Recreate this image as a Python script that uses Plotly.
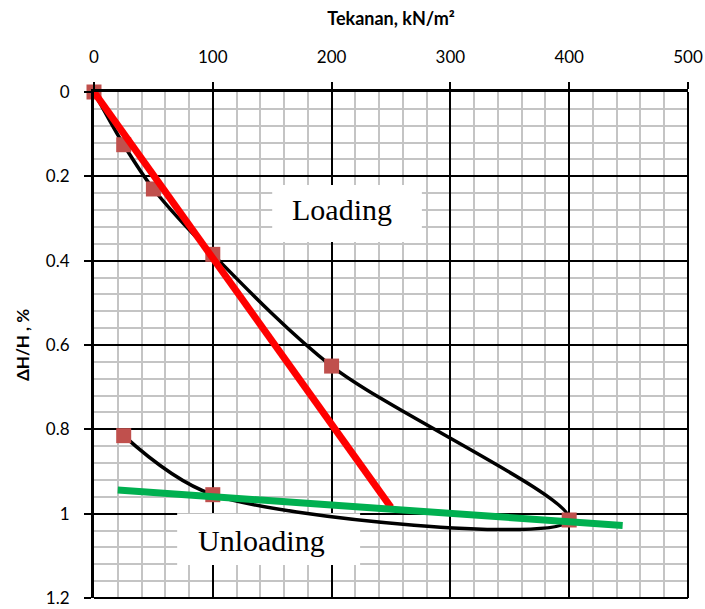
import plotly.graph_objects as go

# Oedometer test: pressure (kN/m^2) vs. relative settlement (%)
pressure = [0, 25, 50, 100, 200, 400, 100, 25]
strain = [0, 0.125, 0.23, 0.385, 0.65, 1.015, 0.955, 0.815]

# Straight-line fits for the loading and unloading branches
loading_x = [0, 250]
loading_y = [0, 0.985]
unloading_x = [20, 445]
unloading_y = [0.944, 1.028]

x_ticks = [0, 100, 200, 300, 400, 500]
y_ticks = [0, 0.2, 0.4, 0.6, 0.8, 1, 1.2]

fig = go.Figure()

# Smoothed loading/unloading curve
fig.add_trace(go.Scatter(
    x=pressure, y=strain, mode="lines",
    line=dict(color="black", width=3.5, shape="spline", smoothing=0.9),
    cliponaxis=False, showlegend=False, hoverinfo="skip"))

# Measured points
fig.add_trace(go.Scatter(
    x=pressure, y=strain, mode="markers",
    marker=dict(symbol="square", size=15, color="#C0504D"),
    cliponaxis=False, showlegend=False))

fig.add_trace(go.Scatter(
    x=loading_x, y=loading_y, mode="lines",
    line=dict(color="#FF0000", width=7),
    cliponaxis=False, showlegend=False))

fig.add_trace(go.Scatter(
    x=unloading_x, y=unloading_y, mode="lines",
    line=dict(color="#00B050", width=7),
    cliponaxis=False, showlegend=False))

# White label boxes sit above the grid but under the curves
fig.add_shape(type="rect", xref="x", yref="y", x0=150, x1=276, y0=0.2205, y1=0.356,
              fillcolor="white", line=dict(width=0), layer="between")
fig.add_shape(type="rect", xref="x", yref="y", x0=70, x1=224, y0=0.999, y1=1.122,
              fillcolor="white", line=dict(width=0), layer="between")

fig.add_annotation(
    x=209, y=0.2775, xref="x", yref="y", text="Loading", showarrow=False,
    font=dict(family="Liberation Serif", size=30, color="black"))

fig.add_annotation(
    x=141, y=1.0636, xref="x", yref="y", text="Unloading", showarrow=False,
    font=dict(family="Liberation Serif", size=30, color="black"))

# Thinner right and bottom frame edges
fig.add_shape(type="line", xref="paper", yref="paper", x0=1, x1=1, y0=0, y1=1,
              line=dict(color="black", width=2))
fig.add_shape(type="line", xref="paper", yref="paper", x0=0, x1=1, y0=0, y1=0,
              line=dict(color="black", width=2))

fig.update_xaxes(
    range=[0, 500], side="top", tickvals=x_ticks, automargin=False,
    showgrid=True, gridcolor="black", gridwidth=2,
    minor=dict(dtick=20, showgrid=True, gridcolor="#C4C4C4", gridwidth=1.5),
    showline=True, linecolor="black", linewidth=3,
    ticks="outside", ticklen=7, tickwidth=2, tickcolor="black",
    ticklabelstandoff=12,
    tickfont=dict(family="Lato", size=17, color="black"),
    zeroline=False,
    title=dict(text="<b>Tekanan, kN/m²</b>", standoff=16,
               font=dict(family="Lato", size=18, color="black")))

fig.update_yaxes(
    range=[1.2, 0], tickvals=y_ticks, automargin=False,
    showgrid=True, gridcolor="black", gridwidth=2,
    minor=dict(dtick=0.04, showgrid=True, gridcolor="#C4C4C4", gridwidth=1.5),
    showline=True, linecolor="black", linewidth=3,
    ticks="outside", ticklen=7, tickwidth=2, tickcolor="black",
    ticklabelstandoff=11,
    tickfont=dict(family="Lato", size=17, color="black"),
    zeroline=False,
    title=dict(text="<b>ΔH/H , %</b>", standoff=12,
               font=dict(family="Lato", size=17, color="black")))

fig.update_layout(
    width=705, height=609,
    margin=dict(l=94, r=17, t=92, b=11),
    paper_bgcolor="white", plot_bgcolor="white",
)

fig.write_html("out.html")
